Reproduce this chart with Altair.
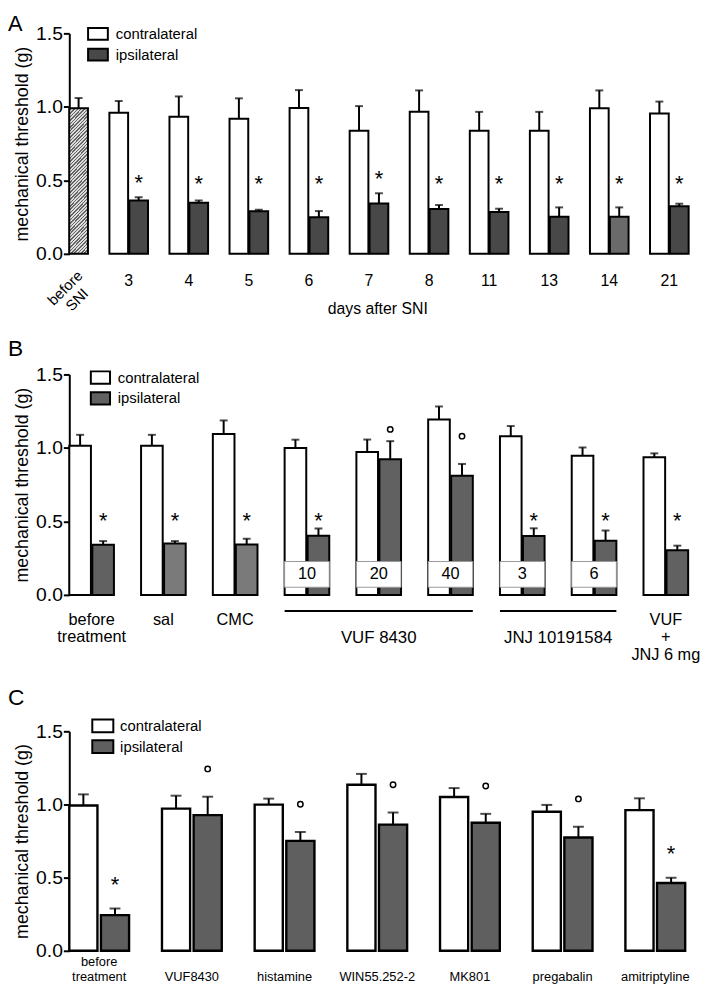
import altair as alt
import pandas as pd

FONT = "Liberation Sans"
SIDES = ["contralateral", "ipsilateral"]

# ---------------- Panel A : days after SNI ----------------
a_groups = ["before SNI", "3", "4", "5", "6", "7", "8", "11", "13", "14", "21"]
a_before_mean = 0.99
a_before_sem = 0.07
a_days = ["3", "4", "5", "6", "7", "8", "11", "13", "14", "21"]
a_contra = [0.96, 0.933, 0.919, 0.993, 0.838, 0.966, 0.838, 0.838, 0.991, 0.955]
a_contra_sem = [0.08, 0.138, 0.139, 0.121, 0.167, 0.146, 0.128, 0.128, 0.121, 0.081]
a_ipsi = [0.363, 0.347, 0.289, 0.249, 0.343, 0.305, 0.285, 0.253, 0.253, 0.323]
a_ipsi_sem = [0.022, 0.016, 0.011, 0.042, 0.069, 0.027, 0.022, 0.063, 0.063, 0.018]
a_sig = ["*", "*", "*", "*", "*", "*", "*", "*", "*", "*"]
a_light = ["14"]

# ---------------- Panel B : acute treatments ----------------
b_groups = ["before treatment", "sal", "CMC", "VUF 10", "VUF 20", "VUF 40",
            "JNJ 3", "JNJ 6", "VUF+JNJ"]
b_labels = ["before\ntreatment", "sal", "CMC", "", "", "", "", "", "VUF\n+\nJNJ 6 mg"]
b_doses = ["", "", "", "10", "20", "40", "3", "6", ""]
b_contra = [1.015, 1.015, 1.095, 1.0, 0.972, 1.194, 1.08, 0.947, 0.936]
b_contra_sem = [0.074, 0.074, 0.092, 0.056, 0.085, 0.088, 0.069, 0.056, 0.027]
b_ipsi = [0.341, 0.35, 0.343, 0.402, 0.923, 0.81, 0.40, 0.368, 0.303]
b_ipsi_sem = [0.025, 0.016, 0.039, 0.049, 0.123, 0.081, 0.053, 0.07, 0.032]
b_sig = ["*", "*", "*", "*", "o", "o", "*", "*", "*"]
b_light = ["sal", "CMC"]
b_brackets = [("VUF 8430", "VUF 10", "VUF 40"), ("JNJ 10191584", "JNJ 3", "JNJ 6")]

# ---------------- Panel C : drugs ----------------
c_groups = ["before treatment", "VUF8430", "histamine", "WIN55.252-2", "MK801",
            "pregabalin", "amitriptyline"]
c_labels = ["before\ntreatment", "VUF8430", "histamine", "WIN55.252-2", "MK801",
            "pregabalin", "amitriptyline"]
c_contra = [0.993, 0.972, 0.999, 1.135, 1.051, 0.95, 0.961]
c_contra_sem = [0.076, 0.088, 0.041, 0.074, 0.061, 0.047, 0.081]
c_ipsi = [0.244, 0.927, 0.751, 0.862, 0.875, 0.774, 0.463]
c_ipsi_sem = [0.045, 0.126, 0.061, 0.083, 0.061, 0.074, 0.036]
c_sig = ["*", "o", "o", "o", "o", "o", "*"]
c_light = []


def long_df(groups, contra, csem, ipsi, isem, light):
    rows = []
    for g, m, s in zip(groups, contra, csem):
        rows.append(dict(group=g, side="contralateral", key="contralateral",
                         mean=m, top=m + s))
    for g, m, s in zip(groups, ipsi, isem):
        rows.append(dict(group=g, side="ipsilateral",
                         key="ipsilateral light" if g in light else "ipsilateral",
                         mean=m, top=m + s))
    return pd.DataFrame(rows)


def sig_df(groups, ipsi, isem, sig, off_star, lvl_star, off_circ, lvl_circ):
    rows = []
    for g, m, s, k in zip(groups, ipsi, isem, sig):
        if k == "*":
            y = max(m + s + off_star, lvl_star)
        else:
            y = max(m + s + off_circ, lvl_circ)
        rows.append(dict(group=g, side="ipsilateral", sig=k, sy=y))
    return pd.DataFrame(rows)


YSCALE = alt.Scale(domain=[0, 1.5], nice=False, zero=True)
YAX = alt.Axis(values=[0, 0.5, 1.0, 1.5], format=".1f", grid=False,
               title="mechanical threshold (g)", domainColor="black",
               domainWidth=2, tickColor="black", tickWidth=2, tickSize=6,
               labelFontSize=19.5, labelColor="black", labelPadding=1,
               labelFont=FONT, titleFont=FONT, titleFontSize=18,
               titleFontWeight="normal", titleColor="black", titlePadding=4)


def Y(field):
    return alt.Y(field, scale=YSCALE, axis=YAX, title="mechanical threshold (g)")


def legend(lx, ly, path, size):
    return alt.Legend(orient="none", legendX=lx, legendY=ly, title=None,
                      values=SIDES, symbolType=path, symbolSize=size,
                      symbolStrokeColor="black", symbolStrokeWidth=2,
                      symbolOpacity=1, labelFontSize=15, labelFont=FONT,
                      labelColor="black", labelOffset=7, rowPadding=0, padding=0)


def core_layers(bars, sig, xscale, offscale, fill_range, leg, cap, stroke_w,
                star_fs, circ_size):
    X = alt.X("group:N", scale=xscale, axis=None, title=None)
    XO = alt.XOffset("side:N", scale=offscale)
    bar = alt.Chart(bars).mark_bar(stroke="black", strokeWidth=stroke_w).encode(
        x=X, xOffset=XO, y=Y("mean:Q"),
        fill=alt.Fill("key:N", scale=alt.Scale(
            domain=["contralateral", "ipsilateral", "ipsilateral light"],
            range=fill_range), legend=leg))
    err = alt.Chart(bars).mark_rule(color="black", strokeWidth=2).encode(
        x=X, xOffset=XO, y=Y("mean:Q"), y2="top:Q")
    capm = alt.Chart(bars).mark_tick(color="black", thickness=2, size=cap,
                                     orient="horizontal").encode(
        x=X, xOffset=XO, y=Y("top:Q"))
    stars = alt.Chart(sig).transform_filter("datum.sig == '*'").mark_text(
        text="*", fontSize=star_fs, font=FONT, color="black",
        baseline="alphabetic", dy=round(0.58 * star_fs)).encode(
        x=X, xOffset=XO, y=Y("sy:Q"))
    circ = alt.Chart(sig).transform_filter("datum.sig == 'o'").mark_point(
        shape="circle", filled=False, color="black", strokeWidth=1.5,
        size=circ_size, opacity=1).encode(
        x=X, xOffset=XO, y=Y("sy:Q"))
    return [bar, err, capm, stars, circ]


def letter(txt, fs, y):
    return alt.Chart(pd.DataFrame({"t": [txt]})).mark_text(
        text=txt, fontSize=fs, font=FONT, color="black", align="left",
        baseline="alphabetic").encode(x=alt.value(-62), y=alt.value(y))


# ======================= Panel A =======================
AW, AH = 626.5, 223
a_bars = long_df(a_days, a_contra, a_contra_sem, a_ipsi, a_ipsi_sem, a_light)
a_sigd = sig_df(a_days, a_ipsi, a_ipsi_sem, a_sig, 0.14, 0.515, 0.14, 0.515)
a_xs = alt.Scale(domain=a_groups, range=[-20.2, AW], paddingInner=0.357,
                 paddingOuter=0)
a_os = alt.Scale(domain=SIDES, paddingInner=0.06, paddingOuter=0)
a_layers = core_layers(a_bars, a_sigd, a_xs, a_os,
                       ["white", "#484848", "#6a6a6a"],
                       legend(18, -10.5, "M-1,-0.6H1V0.6H-1Z", 400),
                       8, 2, 22, 30)

# hatched "before SNI" bar
r = (AW + 20.2) / (len(a_groups) - 0.357) * (1 - 0.357) / 2 / (a_before_mean * AH / 1.5)
gb = (1 + r) / (1 + r * r)
ga = r * gb
NSTRIPE = 48
stops = []
for i in range(NSTRIPE):
    o0, o1, o2 = i / NSTRIPE, (i + 0.55) / NSTRIPE, (i + 1) / NSTRIPE
    stops += [alt.GradientStop(offset=o0, color="#dcdcdc"),
              alt.GradientStop(offset=o1, color="#dcdcdc"),
              alt.GradientStop(offset=o1, color="#666666"),
              alt.GradientStop(offset=o2, color="#666666")]
hatch = alt.LinearGradient(gradient="linear", stops=stops, x1=0, y1=0, x2=ga, y2=gb)
a_before_df = pd.DataFrame({"group": ["before SNI"], "side": ["ipsilateral"],
                            "mean": [a_before_mean],
                            "top": [a_before_mean + a_before_sem]})
AX = alt.X("group:N", scale=a_xs, axis=None, title=None)
AXO = alt.XOffset("side:N", scale=a_os)
a_hbar = alt.Chart(a_before_df).mark_bar(stroke="black", strokeWidth=2,
                                         fill=hatch).encode(
    x=AX, xOffset=AXO, y=Y("mean:Q"))
a_herr = alt.Chart(a_before_df).mark_rule(color="black", strokeWidth=2).encode(
    x=AX, xOffset=AXO, y=Y("mean:Q"), y2="top:Q")
a_hcap = alt.Chart(a_before_df).mark_tick(color="black", thickness=2, size=8,
                                          orient="horizontal").encode(
    x=AX, xOffset=AXO, y=Y("top:Q"))

a_lab_df = pd.DataFrame({"group": a_days, "lab": a_days})
a_labels = alt.Chart(a_lab_df).mark_text(fontSize=16, font=FONT, color="black",
                                         baseline="alphabetic").encode(
    x=AX, y=alt.value(AH + 32.3), text="lab:N")
a_before_lab = alt.Chart(pd.DataFrame({"group": ["before SNI"]})).mark_text(
    text="before\nSNI", lineBreak="\n", fontSize=15, font=FONT, color="black",
    angle=315, align="center", baseline="middle", lineHeight=17, dx=-5).encode(
    x=AX, y=alt.value(AH + 31))
a_title = alt.Chart(pd.DataFrame({"t": ["days after SNI"]})).mark_text(
    text="days after SNI", fontSize=16, font=FONT, color="black",
    baseline="alphabetic").encode(x=alt.value(312), y=alt.value(AH + 60.7))

panelA = alt.layer(a_hbar, a_herr, a_hcap, *a_layers, a_labels, a_before_lab,
                   a_title, letter("A", 22, -2)).properties(width=AW, height=AH)

# ======================= Panel B =======================
BW, BH = 626, 223
b_bars = long_df(b_groups, b_contra, b_contra_sem, b_ipsi, b_ipsi_sem, b_light)
b_sigd = sig_df(b_groups, b_ipsi, b_ipsi_sem, b_sig, 0.08, 0.545, 0.08, 1.08)
B_PI = 0.378
b_xs = alt.Scale(domain=b_groups, paddingInner=B_PI, paddingOuter=0)
b_os = alt.Scale(domain=SIDES, paddingInner=0.06, paddingOuter=0)
b_layers = core_layers(b_bars, b_sigd, b_xs, b_os,
                       ["white", "#616161", "#7a7a7a"],
                       legend(21, -7.3, "M-1.05,-0.68H1.05V0.68H-1.05Z", 342),
                       8, 2, 22, 30)
BX = alt.X("group:N", scale=b_xs, axis=None, title=None)

dose_df = pd.DataFrame({"group": [g for g, d in zip(b_groups, b_doses) if d],
                        "dose": [d for d in b_doses if d]})
dose_df["b0"] = 0.052
dose_df["b1"] = 0.227
dose_df["bm"] = 0.14
b_box = alt.Chart(dose_df).mark_rect(fill="white", stroke="#9a9a9a",
                                     strokeWidth=1).encode(
    x=BX, y=Y("b0:Q"), y2="b1:Q")
b_dose = alt.Chart(dose_df).mark_text(fontSize=16.5, font=FONT, color="black",
                                      baseline="middle").encode(
    x=BX, y=Y("bm:Q"), text="dose:N")

b_lab_df = pd.DataFrame({"group": b_groups, "lab": b_labels})
b_labs = alt.Chart(b_lab_df).mark_text(fontSize=16.5, font=FONT, color="black",
                                       baseline="alphabetic", lineBreak="\n",
                                       lineHeight=18).encode(
    x=BX, y=alt.value(BH + 30), text="lab:N")

br_df = pd.DataFrame({"name": [b[0] for b in b_brackets],
                      "start": [b[1] for b in b_brackets],
                      "end": [b[2] for b in b_brackets]})
b_rules = alt.Chart(br_df).mark_rule(color="black", strokeWidth=2).encode(
    x=alt.X("start:N", scale=b_xs, axis=None, title=None, bandPosition=0),
    x2=alt.X2("end:N", bandPosition=1),
    y=alt.value(BH + 16.3))
b_step = BW / (len(b_groups) - B_PI)
b_brlabs = []
for name, s, e in b_brackets:
    n = b_groups.index(e) - b_groups.index(s) + 1
    b_brlabs.append(alt.Chart(pd.DataFrame({"end": [e], "name": [name]})).mark_text(
        fontSize=17, font=FONT, color="black", baseline="alphabetic",
        dx=-(n - 1) * b_step / 2).encode(
        x=alt.X("end:N", scale=b_xs, axis=None, title=None),
        y=alt.value(BH + 49), text="name:N"))

panelB = alt.layer(*b_layers, b_box, b_dose, b_labs, b_rules, *b_brlabs,
                   letter("B", 23, -18.5)).properties(width=BW, height=BH)

# ======================= Panel C =======================
CW, CH = 623, 222
c_bars = long_df(c_groups, c_contra, c_contra_sem, c_ipsi, c_ipsi_sem, c_light)
c_sigd = sig_df(c_groups, c_ipsi, c_ipsi_sem, c_sig, 0.2, 0.0, 0.19, 0.0)
c_xs = alt.Scale(domain=c_groups, paddingInner=0.355, paddingOuter=0)
c_os = alt.Scale(domain=SIDES, paddingInner=0.11, paddingOuter=0)
c_layers = core_layers(c_bars, c_sigd, c_xs, c_os,
                       ["white", "#5f5f5f", "#5f5f5f"],
                       legend(23.4, -16, "M-1.12,-0.67H1.12V0.67H-1.12Z", 361),
                       11, 2.4, 22, 30)
CX = alt.X("group:N", scale=c_xs, axis=None, title=None)
c_lab_df = pd.DataFrame({"group": c_groups, "lab": c_labels})
c_labs1 = alt.Chart(c_lab_df).transform_filter(
    "indexof(datum.lab, '\\n') < 0").mark_text(
    fontSize=13, font=FONT, color="black", baseline="alphabetic").encode(
    x=CX, y=alt.value(CH + 30.6), text="lab:N")
c_labs2 = alt.Chart(c_lab_df).transform_filter(
    "indexof(datum.lab, '\\n') >= 0").mark_text(
    fontSize=13, font=FONT, color="black", baseline="alphabetic",
    lineBreak="\n", lineHeight=15).encode(
    x=CX, y=alt.value(CH + 15.6), text="lab:N")

panelC = alt.layer(*c_layers, c_labs1, c_labs2, letter("C", 23, -26.2)).properties(
    width=CW, height=CH)

RES = dict(x="independent", y="independent", fill="independent",
           xOffset="independent")
inner = alt.vconcat(panelB, panelC, spacing=138, bounds="flush").resolve_scale(**RES)
chart = alt.vconcat(panelA, inner, spacing=122, bounds="flush").resolve_scale(
    **RES).properties(padding=0, background="white",
                      autosize=alt.AutoSizeParams(type="pad")
    ).configure_view(stroke=None, strokeWidth=0)

chart.save("out.html", embed_options={"renderer": "svg", "actions": False})
